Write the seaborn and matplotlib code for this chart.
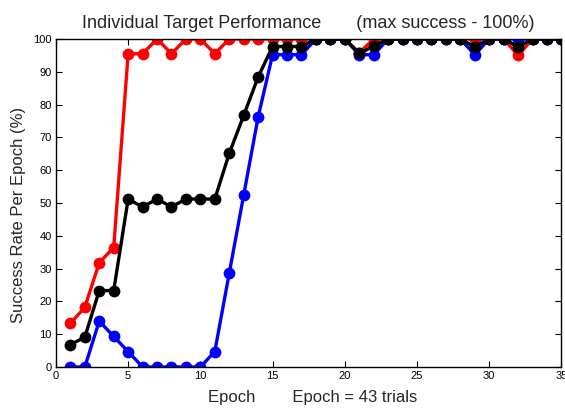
import numpy as np
import pandas as pd
import matplotlib
matplotlib.use("Agg")
import matplotlib.pyplot as plt
import seaborn as sns

epochs = list(range(1, 36))

# success rate per epoch (%) for each target
red_target = [13.3, 18.2, 31.8, 36.4, 95.5, 95.5, 100, 95.5, 100, 100,
              95.5, 100, 100, 100, 100, 100, 100, 100, 100, 100,
              95.8, 100, 100, 100, 100, 100, 100, 100, 100, 100,
              100, 95.0, 100, 100, 100]
blue_target = [0, 0, 14.0, 9.3, 4.7, 0, 0, 0, 0, 0,
               4.7, 28.6, 52.4, 76.2, 95.2, 95.2, 95.2, 100, 100, 100,
               95.2, 95.2, 100, 100, 100, 100, 100, 100, 95.2, 100,
               100, 100, 100, 100, 100]
black_target = [6.8, 9.1, 23.3, 23.3, 51.2, 48.8, 51.2, 48.8, 51.2, 51.2,
                51.2, 65.1, 76.7, 88.4, 97.7, 97.7, 97.7, 100, 100, 100,
                95.6, 97.8, 100, 100, 100, 100, 100, 100, 97.6, 100,
                100, 97.6, 100, 100, 100]

series_names = ["red", "blue", "black"]

df = pd.concat([
    pd.DataFrame({"Epoch": epochs, "Success": vals, "target": name})
    for name, vals in zip(series_names, [red_target, blue_target, black_target])
])

def create_chart():
    sns.set_style("ticks")
    plt.rcParams["font.family"] = ["Liberation Sans", "DejaVu Sans"]

    fig = plt.figure(figsize=(5.65, 4.08), dpi=100)
    ax = fig.add_axes([0.099, 0.1005, 0.8947, 0.804])

    sns.lineplot(data=df, x="Epoch", y="Success", hue="target",
                 hue_order=series_names,
                 palette={"red": "#ff0000", "blue": "#0000ff", "black": "#000000"},
                 marker="o", markersize=8.5, markeredgewidth=0,
                 linewidth=2.4, legend=False, ax=ax)

    ax.set_xlim(0, 35)
    ax.set_ylim(0, 100)
    ax.set_xticks(range(0, 36, 5))
    ax.set_yticks(range(0, 101, 10))
    ax.tick_params(direction="in", length=4, width=0.8, labelsize=8,
                   top=True, right=True, pad=3, colors="black")
    for s in ax.spines.values():
        s.set_visible(True)
        s.set_color("black")
        s.set_linewidth(1.0)

    ax.set_xlabel("Epoch        Epoch = 43 trials", fontsize=12)
    ax.set_ylabel("Success Rate Per Epoch (%)", fontsize=12)
    ax.xaxis.set_label_coords(0.507, -0.07)
    ax.yaxis.set_label_coords(-0.06, 0.465)
    ax.set_title("Individual Target Performance       (max success - 100%)",
                 fontsize=13, pad=8)

    fig.savefig("out.png", dpi=100)
    plt.close(fig)

if __name__ == "__main__":
    create_chart()
